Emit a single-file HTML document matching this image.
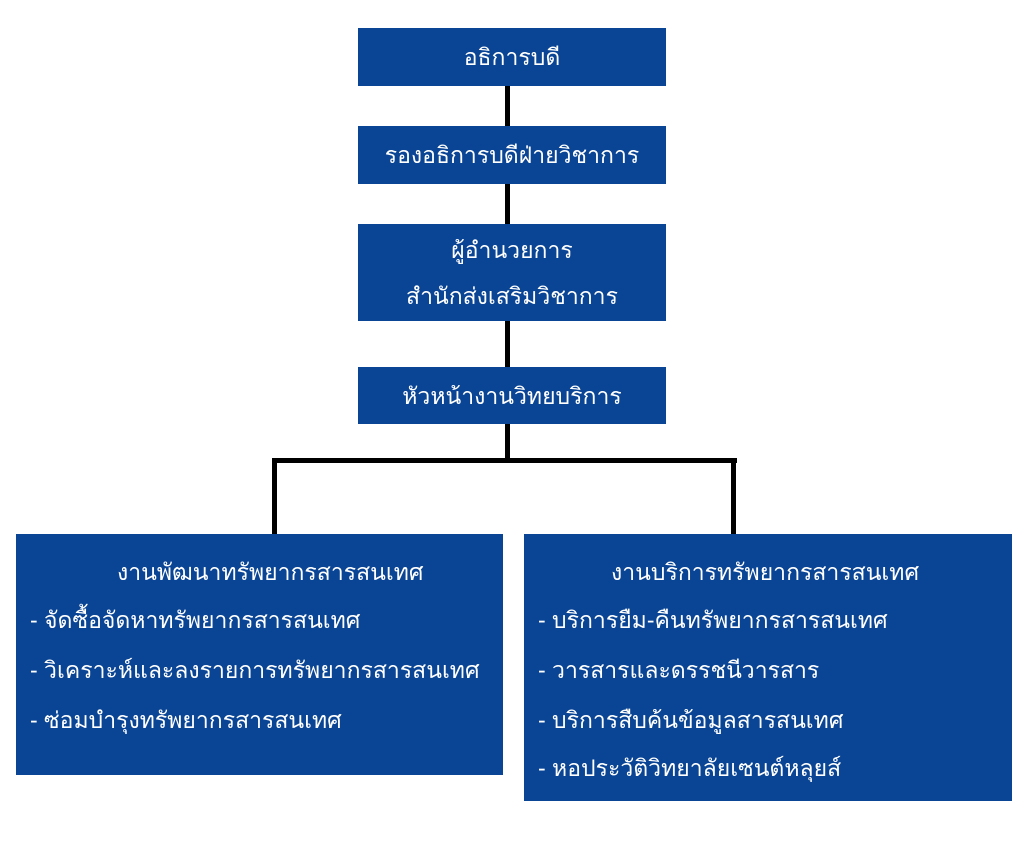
<!DOCTYPE html>
<html><head><meta charset="utf-8"><style>
body{margin:0;width:1024px;height:866px;background:#fff;position:relative;overflow:hidden;font-family:"Liberation Sans","DejaVu Sans",sans-serif;}
.b{position:absolute;background:#0a4494;color:#fff;font-size:23px;}
.c{display:flex;flex-direction:column;align-items:center;justify-content:center;text-align:center;line-height:46px;}
.l{position:absolute;background:#000;}
.t{position:absolute;white-space:nowrap;}
</style></head><body>
<div class="l" style="left:505px;top:86px;width:5px;height:376px"></div>
<div class="l" style="left:272px;top:458px;width:465px;height:5px"></div>
<div class="l" style="left:272px;top:458px;width:5px;height:78px"></div>
<div class="l" style="left:731px;top:458px;width:5px;height:78px"></div>
<div class="b c" style="left:358px;top:28px;width:308px;height:58px">อธิการบดี</div>
<div class="b c" style="left:358px;top:126px;width:308px;height:58px">รองอธิการบดีฝ่ายวิชาการ</div>
<div class="b c" style="left:358px;top:224px;width:308px;height:97px;line-height:46px">ผู้อำนวยการ<br>สำนักส่งเสริมวิชาการ</div>
<div class="b c" style="left:358px;top:367px;width:308px;height:57px">หัวหน้างานวิทยบริการ</div>
<div class="b" style="left:16px;top:534px;width:487px;height:241px">
<div class="t" style="left:101px;top:21px">งานพัฒนาทรัพยากรสารสนเทศ</div>
<div class="t" style="left:14px;top:69px">- จัดซื้อจัดหาทรัพยากรสารสนเทศ</div>
<div class="t" style="left:14px;top:119px">- วิเคราะห์และลงรายการทรัพยากรสารสนเทศ</div>
<div class="t" style="left:14px;top:169px">- ซ่อมบำรุงทรัพยากรสารสนเทศ</div>
</div>
<div class="b" style="left:524px;top:534px;width:488px;height:267px">
<div class="t" style="left:87px;top:21px">งานบริการทรัพยากรสารสนเทศ</div>
<div class="t" style="left:14px;top:69px">- บริการยืม-คืนทรัพยากรสารสนเทศ</div>
<div class="t" style="left:14px;top:119px">- วารสารและดรรชนีวารสาร</div>
<div class="t" style="left:14px;top:169px">- บริการสืบค้นข้อมูลสารสนเทศ</div>
<div class="t" style="left:14px;top:217px">- หอประวัติวิทยาลัยเซนต์หลุยส์</div>
</div>
</body></html>
